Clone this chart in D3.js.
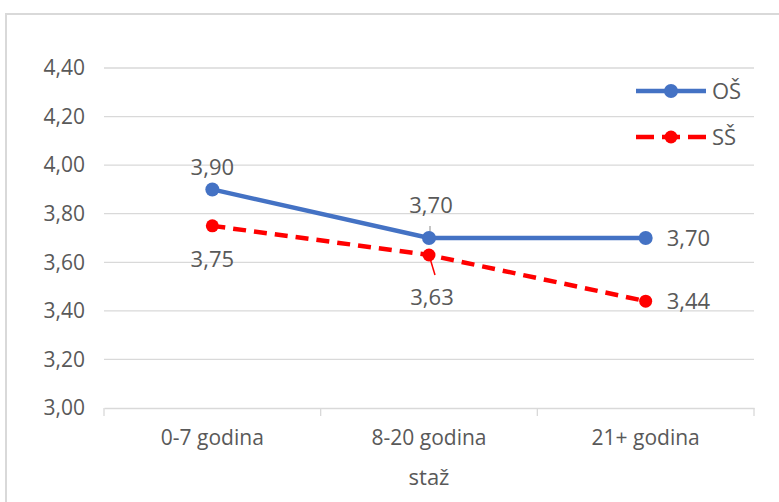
<!DOCTYPE html>
<html>
<head>
<meta charset="utf-8">
<script src="https://cdn.jsdelivr.net/npm/d3@7"></script>
<style>
  body { margin: 0; background: #fff; }
  text { font-family: "Open Sans", "Noto Sans", sans-serif; fill: #595959; }
</style>
</head>
<body>
<div id="chart"></div>
<script>
const categories = ["0-7 godina", "8-20 godina", "21+ godina"];
const osValues = [3.90, 3.70, 3.70];
const ssValues = [3.75, 3.63, 3.44];
const yTicks = [3.00, 3.20, 3.40, 3.60, 3.80, 4.00, 4.20, 4.40];

const W = 779, H = 502;
const margin = { top: 68, right: 25, bottom: 94, left: 104 };
const width = W - margin.left - margin.right,
      height = H - margin.top - margin.bottom;

const svg = d3.select("#chart").append("svg")
    .attr("width", W)
    .attr("height", H);

// chart frame
svg.append("rect")
  .attr("x", 6).attr("y", 14)
  .attr("width", W + 20).attr("height", H + 20)
  .attr("fill", "none")
  .attr("stroke", "#d9d9d9")
  .attr("stroke-width", 2);

const g = svg.append("g")
  .attr("transform", `translate(${margin.left},${margin.top})`);

const fmt = v => d3.format(".2f")(v).replace(".", ",");

const x = d3.scaleBand().domain(categories).range([0, width]);
const y = d3.scaleLinear().domain([3.0, 4.4]).range([height, 0]);
const cx = d => x(d) + x.bandwidth() / 2;

// gridlines
g.selectAll(".grid").data(yTicks.filter(t => t > 3))
  .enter().append("line")
  .attr("x1", 0).attr("x2", width)
  .attr("y1", d => y(d)).attr("y2", d => y(d))
  .attr("stroke", "#d9d9d9").attr("stroke-width", 1.3);

// y axis labels
g.selectAll(".ylab").data(yTicks)
  .enter().append("text")
  .attr("x", -19).attr("y", d => y(d))
  .attr("dy", "0.35em")
  .attr("text-anchor", "end")
  .attr("font-size", 21)
  .text(fmt);

// x axis
const xAxis = g.append("g")
  .attr("transform", `translate(0,${height})`)
  .call(d3.axisBottom(x).tickSize(0).tickPadding(22));
xAxis.select(".domain").attr("stroke", "#d9d9d9").attr("stroke-width", 1.3);
xAxis.selectAll("text")
  .attr("font-size", 21)
  .attr("font-family", "Open Sans, sans-serif")
  .attr("fill", "#595959");
// category separators
xAxis.selectAll(".sep").data([0, 1, 2, 3])
  .enter().append("line")
  .attr("x1", i => i * x.bandwidth()).attr("x2", i => i * x.bandwidth())
  .attr("y1", 0).attr("y2", 8)
  .attr("stroke", "#d9d9d9").attr("stroke-width", 1.3);

g.append("text")
  .attr("x", width / 2).attr("y", height + 77)
  .attr("text-anchor", "middle")
  .attr("font-size", 22)
  .text("staž");

const line = d3.line().x((d, i) => cx(categories[i])).y(d => y(d));

// leader lines for middle labels
g.append("line")
  .attr("x1", cx(categories[1]) + 1).attr("x2", cx(categories[1]) + 1)
  .attr("y1", y(3.70) - 12).attr("y2", y(3.70))
  .attr("stroke", "#a6a6a6").attr("stroke-width", 1.3);
g.append("line")
  .attr("x1", cx(categories[1])).attr("x2", cx(categories[1]) + 6)
  .attr("y1", y(3.63)).attr("y2", y(3.63) + 20)
  .attr("stroke", "#ff0000").attr("stroke-width", 1.5);

// OŠ series
g.append("path").datum(osValues)
  .attr("d", line)
  .attr("fill", "none")
  .attr("stroke", "#4472c4")
  .attr("stroke-width", 4.5);
g.selectAll(".osdot").data(osValues)
  .enter().append("circle")
  .attr("cx", (d, i) => cx(categories[i]))
  .attr("cy", d => y(d))
  .attr("r", 7)
  .attr("fill", "#4472c4");

// SŠ series
g.append("path").datum(ssValues)
  .attr("d", line)
  .attr("fill", "none")
  .attr("stroke", "#ff0000")
  .attr("stroke-width", 4.5)
  .attr("stroke-dasharray", "13,8");
g.selectAll(".ssdot").data(ssValues)
  .enter().append("circle")
  .attr("cx", (d, i) => cx(categories[i]))
  .attr("cy", d => y(d))
  .attr("r", 6.5)
  .attr("fill", "#ff0000");

// data labels
const osLabelPos = [[0, -22, "middle"], [2, -33, "middle"], [21, 0, "start"]];
const ssLabelPos = [[0, 33, "middle"], [3, 42, "middle"], [21, 0, "start"]];
g.selectAll(".oslab").data(osValues)
  .enter().append("text")
  .attr("x", (d, i) => cx(categories[i]) + osLabelPos[i][0])
  .attr("y", (d, i) => y(d) + osLabelPos[i][1])
  .attr("dy", "0.35em")
  .attr("text-anchor", (d, i) => osLabelPos[i][2])
  .attr("font-size", 22)
  .text(fmt);
g.selectAll(".sslab").data(ssValues)
  .enter().append("text")
  .attr("x", (d, i) => cx(categories[i]) + ssLabelPos[i][0])
  .attr("y", (d, i) => y(d) + ssLabelPos[i][1])
  .attr("dy", "0.35em")
  .attr("text-anchor", (d, i) => ssLabelPos[i][2])
  .attr("font-size", 22)
  .text(fmt);

// legend
const legend = svg.append("g").attr("transform", "translate(636,91)");
legend.append("line").attr("x1", 0).attr("x2", 70).attr("y1", 0).attr("y2", 0)
  .attr("stroke", "#4472c4").attr("stroke-width", 4.5);
legend.append("circle").attr("cx", 35).attr("cy", 0).attr("r", 7).attr("fill", "#4472c4");
legend.append("text").attr("x", 76).attr("y", 0).attr("dy", "0.35em")
  .attr("font-size", 22).text("OŠ");
legend.append("line").attr("x1", 0).attr("x2", 70).attr("y1", 46).attr("y2", 46)
  .attr("stroke", "#ff0000").attr("stroke-width", 4.5)
  .attr("stroke-dasharray", "18,8");
legend.append("circle").attr("cx", 35).attr("cy", 46).attr("r", 6.5).attr("fill", "#ff0000");
legend.append("text").attr("x", 76).attr("y", 46).attr("dy", "0.35em")
  .attr("font-size", 22).text("SŠ");
</script>
</body>
</html>
